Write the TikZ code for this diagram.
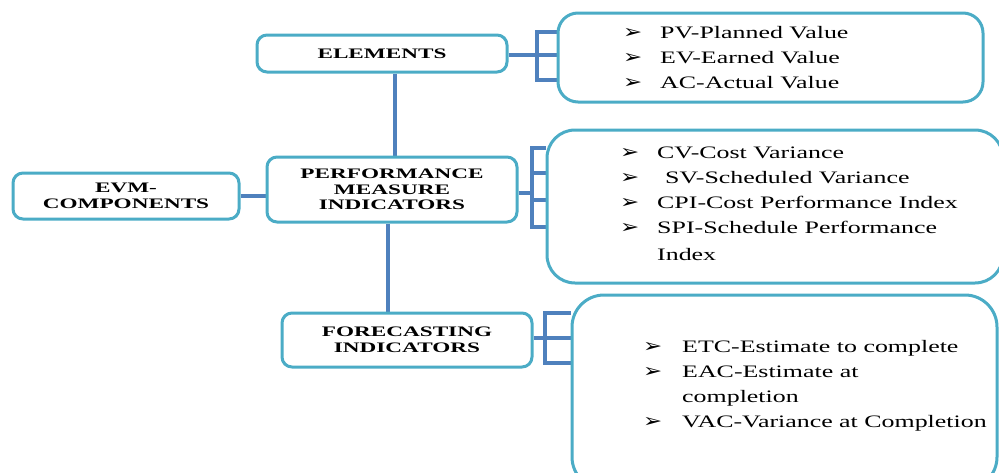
\documentclass[tikz,border=0pt]{standalone}
\usepackage{fontspec}
\setmainfont[FakeStretch=1.48]{Liberation Serif}
\newfontfamily\labfont[FakeStretch=1.6]{Liberation Serif}
\newfontfamily\bulfont[FakeStretch=1.2]{DejaVu Sans}
\usetikzlibrary{backgrounds}
\definecolor{boxc}{HTML}{4BACC6}
\definecolor{conc}{HTML}{4F81BD}
\begin{document}
\begin{tikzpicture}[x=1pt,y=-1pt,
 box/.style={draw=boxc,line width=3pt,rounded corners=10pt,fill=white,inner sep=0pt,align=center,
   font=\labfont\bfseries\fontsize{14.5}{15.5}\selectfont},
 listbox/.style={draw=boxc,line width=3pt,fill=white,inner sep=0pt},
 conn/.style={draw=conc,line width=4pt},
 item/.style={anchor=base west,inner sep=0pt,font=\fontsize{17.5}{20}\selectfont},
 bul/.style={anchor=base west,inner sep=0pt,font=\bulfont\fontsize{19}{20}\selectfont}]
\clip (0,0) rectangle (999,472);
% main boxes
\node[box,minimum width=226pt,minimum height=46pt] (evm) at (126,196) {EVM-\\COMPONENTS};
\node[box,minimum width=250pt,minimum height=37pt] (elem) at (382,53.5) {ELEMENTS};
\node[box,minimum width=250pt,minimum height=65pt] (pmi) at (392,189.5) {PERFORMANCE\\MEASURE\\INDICATORS};
\node[box,minimum width=250pt,minimum height=54pt] (fc) at (407,340) {FORECASTING\\INDICATORS};
% list boxes
\node[listbox,rounded corners=20pt,minimum width=425pt,minimum height=89pt] (elist) at (770.5,57.5) {};
\node[listbox,rounded corners=28pt,minimum width=456pt,minimum height=153pt] (plist) at (775,206.5) {};
\node[listbox,rounded corners=32pt,minimum width=425pt,minimum height=194pt] (flist) at (784.5,392) {};
% element items
\node[bul] (eb1) at (623,38) {➢}; \node[item] (ei1) at (660,38) {PV-Planned Value};
\node[bul] (eb2) at (623,63) {➢}; \node[item] (ei2) at (660,63) {EV-Earned Value};
\node[bul] (eb3) at (623,88) {➢}; \node[item] (ei3) at (660,88) {AC-Actual Value};
% performance items
\node[bul] (pb1) at (620,158) {➢}; \node[item] (pi1) at (657,158) {CV-Cost Variance};
\node[bul] (pb2) at (620,183) {➢}; \node[item] (pi2) at (665,183) {SV-Scheduled Variance};
\node[bul] (pb3) at (620,208) {➢}; \node[item] (pi3) at (657,208) {CPI-Cost Performance Index};
\node[bul] (pb4) at (620,233) {➢}; \node[item] (pi4) at (657,233) {SPI-Schedule Performance};
\node[item] (pi5) at (657,260) {Index};
% forecasting items
\node[bul] (fb1) at (643,352) {➢}; \node[item] (fi1) at (682,352) {ETC-Estimate to complete};
\node[bul] (fb2) at (643,377) {➢}; \node[item] (fi2) at (682,377) {EAC-Estimate at};
\node[item] (fi3) at (682,402) {completion};
\node[bul] (fb3) at (643,427) {➢}; \node[item] (fi4) at (682,427) {VAC-Variance at Completion};
% bracket coordinates
\coordinate (ej) at (537,55);
\coordinate (et) at (537,32); \coordinate (eb) at (537,80);
\coordinate (pj) at (532,193);
\coordinate (pt1) at (532,148); \coordinate (pt2) at (532,173); \coordinate (pt3) at (532,200); \coordinate (pt4) at (532,227);
\coordinate (fj) at (545,338);
\coordinate (ft) at (545,313); \coordinate (fbm) at (545,363);
\begin{pgfonlayer}{background}
\draw[conn] (evm.east |- 0,196) -- (pmi.west |- 0,196);
\draw[conn] (elem.south -| 395,0) -- (pmi.north -| 395,0);
\draw[conn] (pmi.south -| 388,0) -- (fc.north -| 388,0);
% elements bracket
\draw[conn] (elem.east |- ej) -- (ej);
\draw[conn] (elist.west |- et) -- (et) -- (eb) -- (elist.west |- eb);
\draw[conn] (ej) -- (elist.west |- ej);
% performance bracket
\draw[conn] (pmi.east |- pj) -- (pj);
\draw[conn] (plist.west |- pt1) -- (pt1) -- (pt4) -- (plist.west |- pt4);
\draw[conn] (pt2) -- (plist.west |- pt2);
\draw[conn] (pt3) -- (plist.west |- pt3);
% forecasting bracket
\draw[conn] (fc.east |- fj) -- (fj);
\draw[conn] (flist.west |- ft) -- (ft) -- (fbm) -- (flist.west |- fbm);
\draw[conn] (fj) -- (flist.west |- fj);
\end{pgfonlayer}
\end{tikzpicture}
\end{document}
